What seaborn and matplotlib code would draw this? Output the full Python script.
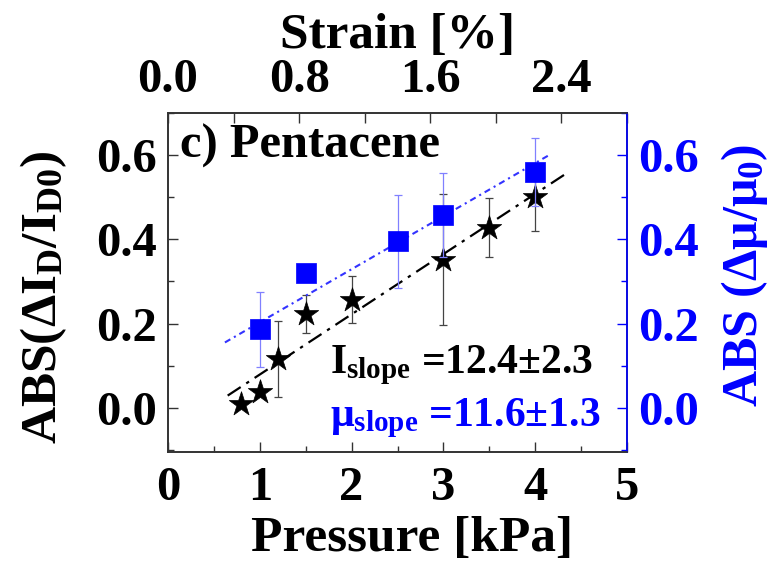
import numpy as np
import pandas as pd
import matplotlib
matplotlib.use("Agg")
import matplotlib.pyplot as plt
import seaborn as sns
from matplotlib.ticker import MultipleLocator, FixedLocator

# ---- data ----
pressure_I = [0.8, 1.0, 1.2, 1.5, 2.0, 3.0, 3.5, 4.0]
abs_dI = [0.008, 0.038, 0.115, 0.222, 0.257, 0.352, 0.428, 0.500]
err_dI = [0.0, 0.0, 0.09, 0.045, 0.055, 0.155, 0.07, 0.08]

pressure_mu = [1.0, 1.5, 2.5, 3.0, 4.0]
abs_dmu = [0.186, 0.319, 0.395, 0.457, 0.560]
err_dmu = [0.09, 0.0, 0.11, 0.10, 0.08]

fit_I = [0.143, -0.064]          # slope, intercept
fit_I_range = [0.65, 4.33]
fit_mu = [0.126, 0.077]
fit_mu_range = [0.62, 4.16]

strain_per_kPa = 0.56
x_ticks = [0, 1, 2, 3, 4, 5]
strain_ticks = [0.0, 0.8, 1.6, 2.4]
y_ticks = [0.0, 0.2, 0.4, 0.6]

BLUE = "#0000ff"

sns.set_style("ticks")
plt.rcParams["font.family"] = ["Liberation Serif", "DejaVu Serif"]
plt.rcParams["font.weight"] = "bold"
plt.rcParams["text.color"] = "black"
plt.rcParams["axes.labelcolor"] = "black"
plt.rcParams["xtick.color"] = "black"
plt.rcParams["ytick.color"] = "black"
plt.rcParams["mathtext.fontset"] = "custom"
plt.rcParams["mathtext.rm"] = "Liberation Serif:bold"
plt.rcParams["mathtext.bf"] = "Liberation Serif:bold"
plt.rcParams["mathtext.it"] = "Liberation Serif:bold"

fig = plt.figure(figsize=(7.72, 5.65), dpi=100)
ax = fig.add_axes([168 / 772, 1 - 452 / 565, (627 - 168) / 772, (452 - 113) / 565])

ax.set_xlim(0, 5)
ax.set_ylim(-0.105, 0.70)

# fit lines
xr = np.array(fit_I_range)
ax.plot(xr, fit_I[0] * xr + fit_I[1], color="black", lw=1.6,
        ls=(0, (7, 3, 1.5, 3)), zorder=2)

# error bars + markers (black stars)
ax.errorbar(pressure_I, abs_dI, yerr=err_dI, fmt="none", ecolor="#444444",
            elinewidth=0.9, capsize=3, capthick=0.9, zorder=3)
df_I = pd.DataFrame({"p": pressure_I, "v": abs_dI})
sns.scatterplot(data=df_I, x="p", y="v", marker="*", s=340, color="black",
                edgecolor="black", linewidth=0.5, ax=ax, zorder=4, legend=False)

# right axis
ax2 = ax.twinx()
ax2.set_ylim(-0.105, 0.70)
xr2 = np.array(fit_mu_range)
ax2.plot(xr2, fit_mu[0] * xr2 + fit_mu[1], color="#3333ff", lw=1.5,
         ls=(0, (3, 2, 1, 2)), zorder=2)
ax2.errorbar(pressure_mu, abs_dmu, yerr=err_dmu, fmt="none", ecolor="#8080ff",
             elinewidth=0.9, capsize=3, capthick=0.9, zorder=3)
df_mu = pd.DataFrame({"p": pressure_mu, "v": abs_dmu})
sns.scatterplot(data=df_mu, x="p", y="v", marker="s", s=200, color=BLUE,
                edgecolor=BLUE, linewidth=0.5, ax=ax2, zorder=4, legend=False)

TICK_FS = 35
LAB_FS = 37

# ticks
ax.xaxis.set_major_locator(FixedLocator(x_ticks))
ax.xaxis.set_minor_locator(MultipleLocator(0.5))
ax.yaxis.set_major_locator(FixedLocator(y_ticks))
ax.yaxis.set_minor_locator(MultipleLocator(0.1))
ax.tick_params(axis="both", which="major", direction="in", length=7, width=1,
               labelsize=TICK_FS, color="#333333", labelcolor="black")
ax.tick_params(axis="both", which="minor", direction="in", length=4, width=1,
               color="#333333")
ax.tick_params(axis="x", pad=10)
ax.tick_params(axis="y", pad=8)
ax.set_xticklabels([f"{t:d}" for t in x_ticks], fontweight="bold")
ax.set_yticklabels([f"{t:.1f}" for t in y_ticks], fontweight="bold")

ax2.yaxis.set_major_locator(FixedLocator(y_ticks))
ax2.yaxis.set_minor_locator(MultipleLocator(0.1))
ax2.tick_params(axis="y", which="major", direction="in", length=7, width=1,
                labelsize=TICK_FS, color=BLUE, labelcolor=BLUE, pad=8)
ax2.tick_params(axis="y", which="minor", direction="in", length=4, width=1,
                color=BLUE)
ax2.set_yticklabels([f"{t:.1f}" for t in y_ticks], fontweight="bold")

for a in (ax, ax2):
    for s in a.spines.values():
        s.set_color("#333333")
        s.set_linewidth(1.2)
ax2.spines["right"].set_color(BLUE)

# top strain axis
sec = ax.secondary_xaxis("top", functions=(lambda p: p * strain_per_kPa,
                                           lambda s: s / strain_per_kPa))
sec.xaxis.set_major_locator(FixedLocator(strain_ticks))
sec.xaxis.set_minor_locator(MultipleLocator(0.4))
sec.tick_params(which="major", direction="in", length=7, width=1,
                labelsize=TICK_FS, color="#333333", labelcolor="black", pad=8)
sec.tick_params(which="minor", direction="in", length=7, width=1, color="#333333")
sec.set_xticklabels([f"{t:.1f}" for t in strain_ticks], fontweight="bold")
sec.spines["top"].set_visible(False)
sec.set_xlabel("Strain [%]", fontsize=LAB_FS, fontweight="bold", labelpad=7)

ax.set_xlabel("Pressure [kPa]", fontsize=LAB_FS, fontweight="bold", labelpad=2)
ax.xaxis.set_label_coords(0.532, -0.19)
ax.xaxis.label.set_va("top")

ax.set_ylabel(r"ABS($\Delta$I$_\mathrm{D}$/I$_\mathrm{D0}$)", fontsize=LAB_FS,
              fontweight="bold")
ax.yaxis.label.set_va("center")
ax.yaxis.set_label_coords(-0.27, 0.457)

ax2.set_ylabel(r"ABS ($\Delta\mu$/$\mu_\mathrm{0}$)", fontsize=LAB_FS - 1,
               fontweight="bold", color=BLUE)
ax2.yaxis.label.set_va("center")
ax2.yaxis.set_label_coords(1.255, 0.522)

# annotations
ax.text(0.13, 0.595, "c) Pentacene", fontsize=35, fontweight="bold",
        ha="left", va="baseline", zorder=6)
ax.text(1.76, 0.083, r"$\mathrm{I_{slope}}$ =12.4±2.3", fontsize=30,
        fontweight="bold", ha="left", va="baseline", zorder=6)
ax.text(1.76, -0.045, r"$\mathrm{\mu_{slope}}$ =11.6±1.3", fontsize=30,
        fontweight="bold", color=BLUE, ha="left", va="baseline", zorder=6)

fig.savefig("out.png", dpi=100)
